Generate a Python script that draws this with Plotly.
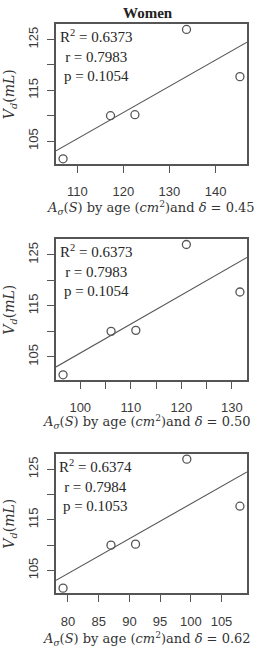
import numpy as np
import plotly.graph_objects as go

# ---- data ----
vd = [101.5, 110.0, 110.2, 127.0, 117.7]
area_045 = [106.9, 117.2, 122.5, 133.7, 145.3]
area_050 = [96.6, 106.1, 111.0, 121.0, 131.6]
area_062 = [79.2, 87.0, 91.0, 99.35, 108.0]
deltas = ["0.45", "0.50", "0.62"]
r2_vals = ["0.6373", "0.6373", "0.6374"]
r_vals = ["0.7983", "0.7983", "0.7984"]
p_vals = ["0.1054", "0.1054", "0.1053"]
xticks_045 = [110, 120, 130, 140]
xticks_050 = [100, 105, 110, 115, 120, 125, 130]
xtlabels_050 = ["100", "", "110", "", "120", "", "130"]
xticks_062 = [80, 85, 90, 95, 100, 105]
yticks = [105, 110, 115, 120, 125]
ytlabels = ["105", "", "115", "", "125"]

W, H = 257, 667
def px(x): return x / W
def py(y): return 1 - y / H

panels = [
    dict(x=area_045, tv=xticks_045, tt=[str(v) for v in xticks_045], top=24.3, bot=164.0, tx=45, ty=44),
    dict(x=area_050, tv=xticks_050, tt=xtlabels_050, top=239.3, bot=380.0, tx=41, ty=42),
    dict(x=area_062, tv=xticks_062, tt=[str(v) for v in xticks_062], top=454.0, bot=593.3, tx=41, ty=46),
]

def ext(vals):
    lo, hi = min(vals), max(vals)
    d = (hi - lo) * 0.04
    return [lo - d, hi + d]

fig = go.Figure()
ax_col = "#555555"
txt_col = "#3a3a3a"
yr = ext(vd)
annotations = []
for i, p in enumerate(panels):
    n = "" if i == 0 else str(i + 1)
    xr = ext(p["x"])
    fig.add_trace(go.Scatter(x=p["x"], y=vd, mode="markers", xaxis="x" + n, yaxis="y" + n,
                             marker=dict(symbol="circle-open", size=8, color="#555555",
                                         line=dict(width=1.3)),
                             showlegend=False, cliponaxis=False))
    slope, icpt = np.polyfit(p["x"], vd, 1)
    lx = np.array(xr)
    fig.add_trace(go.Scatter(x=lx, y=slope * lx + icpt, mode="lines", xaxis="x" + n, yaxis="y" + n,
                             line=dict(color="#555555", width=1.1), showlegend=False))
    common = dict(showline=True, mirror=True, linecolor=ax_col, linewidth=1.5, ticks="outside",
                  ticklen=7, tickcolor=ax_col, tickwidth=1.3, showgrid=False, zeroline=False,
                  tickfont=dict(family="Liberation Sans, Arial", size=13, color=txt_col),
                  tickmode="array")
    fig.layout["xaxis" + n] = dict(common, domain=[px(56), px(247)], range=xr,
                                    anchor="y" + n, tickvals=p["tv"], ticktext=p["tt"],
                                    ticklabelstandoff=8)
    fig.layout["yaxis" + n] = dict(common, domain=[py(p["bot"]), py(p["top"])], range=yr,
                                    anchor="x" + n, tickvals=yticks, ticktext=ytlabels,
                                    tickangle=-90, ticklabelstandoff=4)
    # stats
    annotations.append(dict(xref="paper", yref="paper", x=px(95.5), y=py(p["top"] + 1),
                            xanchor="center", yanchor="top", align="center", showarrow=False,
                            text=f"R<sup>2</sup> = {r2_vals[i]}<br>r = {r_vals[i]}<br>p = {p_vals[i]}",
                            font=dict(family="Liberation Serif, serif", size=15, color="#262626")))
    # y title
    annotations.append(dict(xref="paper", yref="paper", x=px(10), y=py((p["top"] + p["bot"]) / 2),
                            xanchor="center", yanchor="middle", textangle=-90, showarrow=False,
                            text="<i>V<sub>d</sub></i>(<i>mL</i>)",
                            font=dict(family="DejaVu Serif, serif", size=14, color="#333333")))
    # x title
    annotations.append(dict(xref="paper", yref="paper", x=px(p["tx"]), y=py(p["bot"] + p["ty"]),
                            xanchor="left", yanchor="middle", showarrow=False,
                            text=f"<i>A<sub>σ</sub></i>(<i>S</i>) by age (<i>cm</i><sup>2</sup>)and <i>δ</i> = {deltas[i]}",
                            font=dict(family="DejaVu Serif, serif", size=13, color="#333333")))

annotations.append(dict(xref="paper", yref="paper", x=px(148), y=py(13), xanchor="center",
                        yanchor="middle", showarrow=False, text="<b>Women</b>",
                        font=dict(family="Liberation Serif, serif", size=15, color="#222222")))

fig.update_layout(width=W, height=H, margin=dict(l=0, r=0, t=0, b=0),
                  paper_bgcolor="white", plot_bgcolor="white", annotations=annotations)
fig.write_html("out.html")
